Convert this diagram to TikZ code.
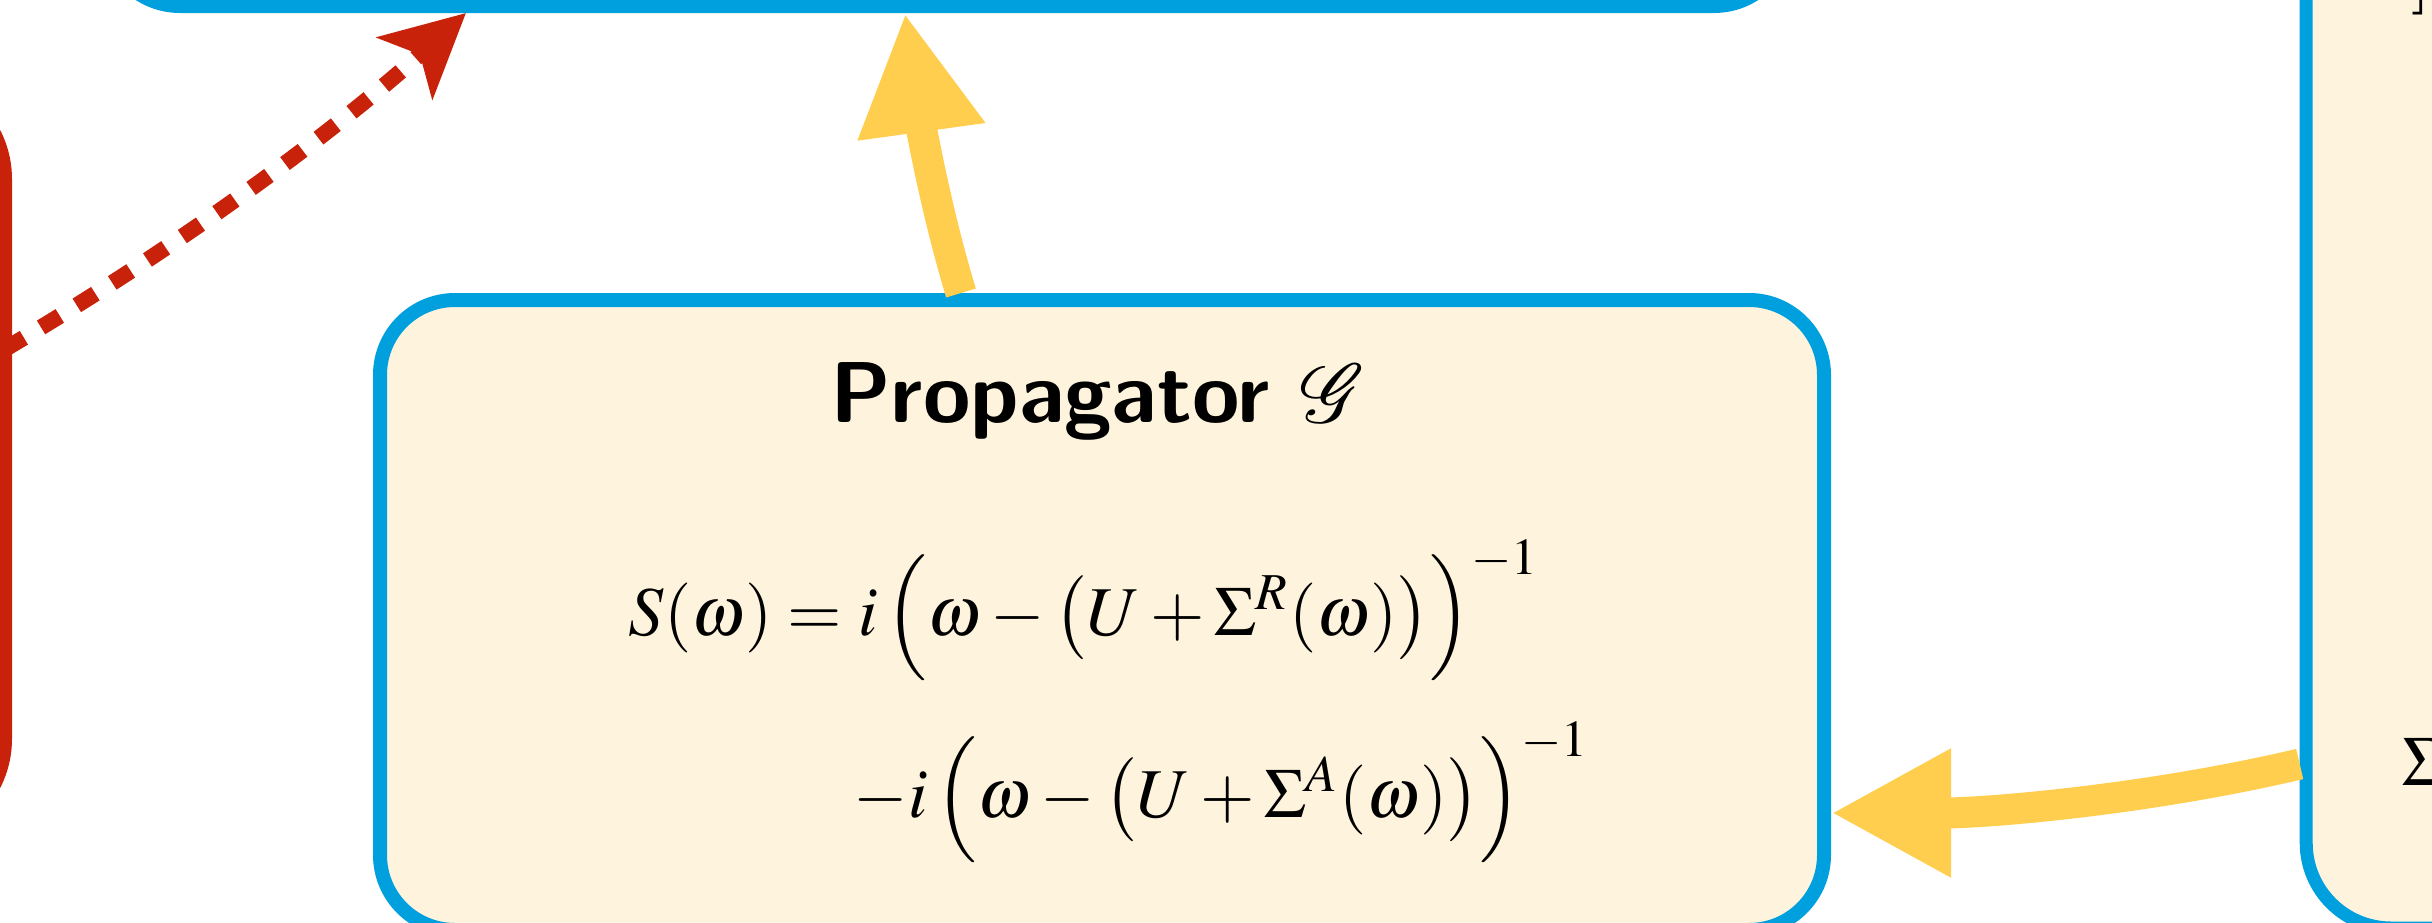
\documentclass[tikz,border=0pt]{standalone}
\usepackage{amsmath}
\usepackage{mathptmx}
\usepackage{mathrsfs}
\usetikzlibrary{arrows.meta,calc}
\definecolor{bblue}{RGB}{0,160,223}
\definecolor{cream}{RGB}{254,243,220}
\definecolor{ayellow}{RGB}{255,206,79}
\definecolor{ared}{RGB}{200,35,10}
\begin{document}
\begin{tikzpicture}[x=0.25pt,y=-0.25pt,
  box/.style={draw=bblue, line width=3.5pt, fill=cream, rounded corners=18.75pt, inner sep=0pt, outer sep=0pt},
  redbox/.style={draw=ared, line width=3.5pt, rounded corners=25pt, inner sep=0pt, outer sep=0pt},
  yarrow/.style={draw=ayellow, line width=7.75pt, -{Triangle[length=30pt,width=30pt]}},
  rarrow/.style={draw=ared, line width=4pt, dash pattern=on 5.5pt off 5pt, -{Stealth[length=20.5pt,width=20.5pt,inset=5pt]}},
  eqtext/.style={inner sep=0pt, font=\fontsize{17.5}{21.5}\selectfont},
  titletext/.style={inner sep=0pt, font=\fontsize{21.6}{26}\fontfamily{lmss}\selectfont\bfseries}]
\useasboundingbox (0,0) rectangle (2432,922);
\clip (0,0) rectangle (2432,922);
% boxes
\node[box, minimum width=421pt, minimum height=101.5pt] (top) at (947,-197) {};
\node[redbox, minimum width=126.25pt, minimum height=190pt] (red) at (-247.5,459) {};
\node[box, line width=3.25pt, rounded corners=21.25pt, minimum width=156.4pt, minimum height=332pt] (sig) at (2619,264) {};
\node[box, minimum width=361pt, minimum height=157.5pt] (prop) at (1102,615) {};
% texts
\node[titletext, anchor=base] (title) at (1098,422) {Propagator $\mathscr{G}$};
\node[eqtext, anchor=base west] (eqa) at (628,635) {$S(\omega) = i\,\Big(\omega-\big(U+\Sigma^R(\omega)\big)\Big)^{-1}$};
\node[eqtext, anchor=base west] (eqb) at (853,817) {$-i\,\Big(\omega-\big(U+\Sigma^A(\omega)\big)\Big)^{-1}$};
\node[eqtext, anchor=base west] (sigma) at (2402,785) {$\Sigma$};
\node[eqtext, anchor=south east] (brk) at (2432,16) {$]$};
% connectors
\draw[yarrow] ($(prop.north -| 961,0)+(0,-7)$) .. controls (933,201) and (918,107) .. ($(top.south -| 905,0)+(0,7)$);
\draw[yarrow] ($(sig.west |- 0,764)+(-6.5,0)$) .. controls (2147,800) and (1987,813) .. ($(prop.east |- 0,813)+(7,0)$);
\draw[rarrow] (red.east |- 0,349) .. controls (171,251) and (325,140) .. ($(top.south -| 466,0)+(0,7)$);
\end{tikzpicture}
\end{document}
